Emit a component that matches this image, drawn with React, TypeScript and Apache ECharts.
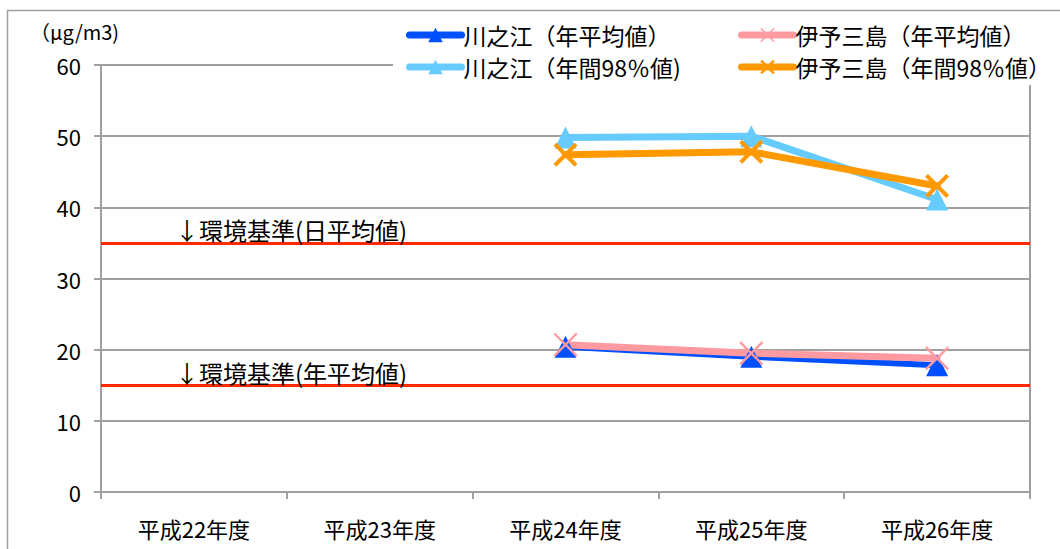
import React, { useEffect, useRef } from "react";
import * as echarts from "echarts";

// Fiscal years on the category axis
const categories = ["平成22年度", "平成23年度", "平成24年度", "平成25年度", "平成26年度"];

// PM2.5 concentrations (μg/m3); no measurements before 平成24年度
const kawanoeAnnual = [null, null, 20.4, 19.0, 17.8];
const iyomishimaAnnual = [null, null, 20.7, 19.5, 18.8];
const kawanoe98 = [null, null, 49.8, 50.0, 41.1];
const iyomishima98 = [null, null, 47.4, 47.8, 43.0];

const seriesNames = [
  "川之江（年平均値）",
  "伊予三島（年平均値）",
  "川之江（年間98％値)",
  "伊予三島（年間98％値）",
];

// Environmental standards: daily mean and annual mean
const standardValues = [35, 15];
const standardLabels = ["↓環境基準(日平均値)", "↓環境基準(年平均値)"];

const yMin = 0;
const yMax = 60;
const yInterval = 10;

const FONT = '"Noto Sans CJK JP", "Noto Sans", sans-serif';

// X-shaped marker built from two crossing bars (same winding so the centre stays filled)
function crossPath(d: number): string {
  const S = 100;
  return (
    `path://M0,${d} L${d},0 L${S},${S - d} L${S - d},${S} Z ` +
    `M${S - d},0 L${S},${d} L${d},${S} L0,${S - d} Z`
  );
}

export default function App() {
  const ref = useRef<HTMLDivElement>(null);

  useEffect(() => {
    document.body.style.margin = "0";
    if (!ref.current) return;
    const chart = echarts.init(ref.current, undefined, { renderer: "svg" });

    const thinCross = crossPath(7);
    const thickCross = crossPath(12);

    const lineBase = { width: 6, cap: "round" as const, join: "round" as const };

    const legendPos = [
      { left: 406, top: 23 },
      { left: 738, top: 23 },
      { left: 406, top: 55 },
      { left: 738, top: 55 },
    ];

    chart.setOption({
      animation: false,
      backgroundColor: "#ffffff",
      textStyle: { fontFamily: FONT },
      grid: {
        left: 101,
        right: 30,
        top: 65,
        bottom: 57,
        show: true,
        borderColor: "#a0a0a0",
        borderWidth: 2,
        backgroundColor: "transparent",
      },
      legend: seriesNames.map((name, i) => ({
        data: [name],
        left: legendPos[i].left,
        top: legendPos[i].top,
        padding: 0,
        itemWidth: 52,
        itemHeight: 18,
        itemGap: 0,
        selectedMode: false,
        lineStyle: { width: 7, cap: "round" },
        textStyle: { fontFamily: FONT, fontSize: 23, color: "#000", lineHeight: 24, padding: [0, 0, 0, -3] },
      })),
      xAxis: {
        type: "category",
        data: categories,
        offset: 7,
        axisLine: { lineStyle: { color: "#a0a0a0", width: 2 } },
        axisTick: { show: true, length: 7, lineStyle: { color: "#a0a0a0", width: 2 } },
        axisLabel: { fontFamily: FONT, fontSize: 22, color: "#000", margin: 18 },
        splitLine: { show: false },
      },
      yAxis: {
        type: "value",
        min: yMin,
        max: yMax,
        interval: yInterval,
        axisLine: { show: true, lineStyle: { color: "#a0a0a0", width: 2 } },
        axisTick: { show: true, length: 7, lineStyle: { color: "#a0a0a0", width: 2 } },
        axisLabel: { fontFamily: FONT, fontSize: 22, color: "#000", margin: 20 },
        splitLine: { show: true, lineStyle: { color: "#a0a0a0", width: 2 } },
      },
      graphic: [
        {
          type: "rect",
          z: -10,
          shape: { x: 7.5, y: 10.5, width: 1100, height: 600 },
          style: { fill: "none", stroke: "#a0a0a0", lineWidth: 1.5 },
        },
        {
          type: "rect",
          z: 1,
          shape: { x: 393, y: 16, width: 660, height: 69 },
          style: { fill: "#ffffff" },
        },
        {
          type: "text",
          left: 30,
          top: 21,
          style: { text: "（μg/m3)", font: `20px ${FONT}`, fill: "#000" },
        },
      ],
      series: [
        {
          name: seriesNames[0],
          type: "line",
          data: kawanoeAnnual,
          symbol: "triangle",
          symbolSize: 22,
          itemStyle: { color: "#0050ff" },
          lineStyle: { ...lineBase, color: "#0050ff" },
          markLine: {
            silent: true,
            symbol: ["none", "none"],
            lineStyle: { color: "#ff2a00", width: 3, type: "solid" },
            label: {
              show: true,
              position: "insideStartTop",
              distance: 1,
              padding: [0, 0, 0, 73],
              fontFamily: FONT,
              fontSize: 24,
              color: "#000",
            },
            data: standardValues.map((v, i) => ({
              yAxis: v,
              label: { formatter: standardLabels[i] },
            })),
          },
        },
        {
          name: seriesNames[1],
          type: "line",
          data: iyomishimaAnnual,
          symbol: thinCross,
          symbolSize: 24,
          itemStyle: { color: "#ff9aa0" },
          lineStyle: { ...lineBase, width: 7, color: "#ff9aa0" },
        },
        {
          name: seriesNames[2],
          type: "line",
          data: kawanoe98,
          symbol: "triangle",
          symbolSize: 22,
          itemStyle: { color: "#66ccff" },
          lineStyle: { ...lineBase, width: 7, color: "#66ccff" },
        },
        {
          name: seriesNames[3],
          type: "line",
          data: iyomishima98,
          symbol: thickCross,
          symbolSize: 24,
          itemStyle: { color: "#ff9900" },
          lineStyle: { ...lineBase, width: 7, color: "#ff9900" },
        },
      ],
    });

    return () => chart.dispose();
  }, []);

  return (
    <div
      ref={ref}
      style={{ position: "absolute", left: 0, top: 0, width: 1060, height: 549 }}
    />
  );
}
